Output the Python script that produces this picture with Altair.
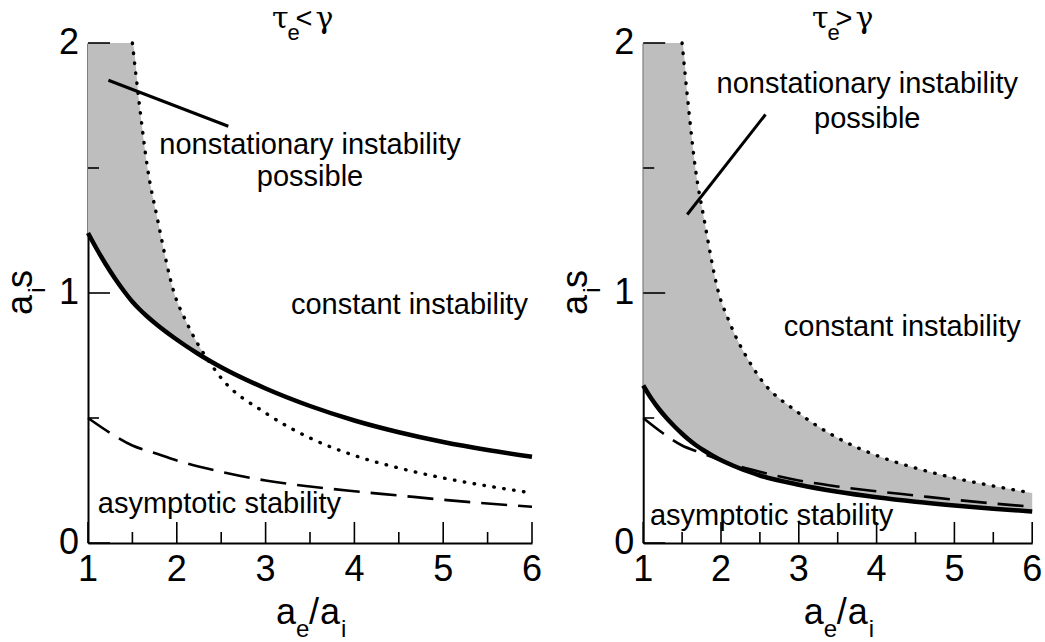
import altair as alt
import pandas as pd

FONT = "Liberation Sans"
GREEK = "DejaVu Serif"
SHADE = "#bebebe"

# ---- curve data (a_e/a_i on x, a_i s on y) ----
grid_x = [1.0, 1.1, 1.2, 1.3, 1.4, 1.5, 1.58, 1.67, 1.78, 1.97, 2.1, 2.23, 2.35,
          2.5, 3.0, 3.5, 4.0, 4.5, 5.0, 5.5, 6.0]
solid_left = [1.24, 1.175, 1.115, 1.06, 1.01, 0.965, 0.935, 0.905, 0.872, 0.821, 0.789, 0.759, 0.733,
              0.703, 0.618, 0.548, 0.49, 0.443, 0.404, 0.372, 0.345]
solid_right = [0.63, 0.58, 0.537, 0.5, 0.467, 0.437, 0.415, 0.393, 0.37, 0.336, 0.317, 0.3, 0.286,
               0.27, 0.233, 0.205, 0.183, 0.165, 0.15, 0.137, 0.126]

dotted_x = [1.5, 1.58, 1.67, 1.78, 1.97, 2.1, 2.23, 2.35, 2.5, 3.0, 3.5, 4.0, 4.5, 5.0, 5.5, 6.0]
dotted_y = [2.0, 1.75, 1.5, 1.3, 1.0, 0.89, 0.8, 0.733, 0.66, 0.52, 0.42, 0.35, 0.3, 0.26, 0.228, 0.2]

dashed_x = [1.0, 1.25, 1.5, 1.75, 2.0, 2.5, 3.0, 3.5, 4.0, 4.5, 5.0, 5.5, 6.0]
dashed_y = [0.5, 0.44, 0.39, 0.36, 0.33, 0.285, 0.25, 0.226, 0.207, 0.19, 0.173, 0.158, 0.145]

major_x = [1, 2, 3, 4, 5, 6]
minor_x = [1.5, 2.5, 3.5, 4.5, 5.5]
major_y = [0, 1, 2]
minor_y = [0.5, 1.5]
Y_TOP = 2.0

# leader lines from the "nonstationary instability" notes
pointer_left = {"x": [1.23], "y": [1.851], "x2": [2.58], "y2": [1.667]}
pointer_right = {"x": [1.566], "y": [1.314], "x2": [2.572], "y2": [1.714]}

H = 500
W_LEFT = 444
W_RIGHT = 389

XS = alt.Scale(domain=[1, 6], nice=False, zero=False)
YS = alt.Scale(domain=[0, 2], nice=False, zero=False)
AX = alt.Axis(labels=False, ticks=False, grid=False, title=None, domain=True,
              domainColor="black", domainWidth=2)


def X(field):
    return alt.X(field, type="quantitative", scale=XS, axis=AX)


def Y(field):
    return alt.Y(field, type="quantitative", scale=YS, axis=AX)


def txt(s, x, y, size, font=FONT, align="left", angle=0, baseline="alphabetic"):
    return alt.Chart(pd.DataFrame({"s": [s]})).mark_text(
        font=font, fontSize=size, align=align, baseline=baseline, angle=angle, color="black"
    ).encode(x=alt.value(x), y=alt.value(y), text="s:N")


def shade_table(solid, x_end):
    top_lookup = dict(zip(dotted_x, dotted_y))
    rows = []
    for x, lo in zip(grid_x, solid):
        if x > x_end:
            break
        top = Y_TOP if x < dotted_x[0] else top_lookup[x]
        rows.append({"x": x, "top": top, "bottom": lo})
    return pd.DataFrame(rows)


def panel(width, solid, shade_end, relation, notes, pointer, anchor=False):
    curves = pd.DataFrame({"x": grid_x, "y": solid})
    dotted = pd.DataFrame({"x": dotted_x, "y": dotted_y})
    dashed = pd.DataFrame({"x": dashed_x, "y": dashed_y})

    area = alt.Chart(shade_table(solid, shade_end)).mark_area(
        color=SHADE, interpolate="monotone", opacity=1
    ).encode(x=X("x"), y=Y("top"), y2="bottom")

    dot_line = alt.Chart(dotted).mark_line(
        color="black", strokeWidth=3.4, strokeDash=[0.5, 9.5], strokeCap="round",
        interpolate="monotone"
    ).encode(x=X("x"), y=Y("y"))

    dash_line = alt.Chart(dashed).mark_line(
        color="black", strokeWidth=2.6, strokeDash=[26, 11], interpolate="monotone"
    ).encode(x=X("x"), y=Y("y"))

    solid_line = alt.Chart(curves).mark_line(
        color="black", strokeWidth=4.5, interpolate="monotone"
    ).encode(x=X("x"), y=Y("y"))

    # inward ticks
    xt_major = alt.Chart(pd.DataFrame({"t": major_x})).mark_rule(
        color="black", strokeWidth=1.6).encode(x=X("t"), y=alt.value(H), y2=alt.value(H - 21))
    xt_minor = alt.Chart(pd.DataFrame({"t": minor_x})).mark_rule(
        color="black", strokeWidth=1.6).encode(x=X("t"), y=alt.value(H), y2=alt.value(H - 11))
    yt_major = alt.Chart(pd.DataFrame({"t": major_y})).mark_rule(
        color="black", strokeWidth=1.6).encode(y=Y("t"), x=alt.value(0), x2=alt.value(22))
    yt_minor = alt.Chart(pd.DataFrame({"t": minor_y})).mark_rule(
        color="black", strokeWidth=1.6).encode(y=Y("t"), x=alt.value(0), x2=alt.value(11))

    xl = alt.Chart(pd.DataFrame({"t": major_x})).mark_text(
        font=FONT, fontSize=36, align="center", baseline="top", color="black"
    ).encode(x=X("t"), y=alt.value(H + 10), text=alt.Text("t:Q", format="d"))
    yl = alt.Chart(pd.DataFrame({"t": major_y})).mark_text(
        font=FONT, fontSize=36, align="right", baseline="middle", color="black"
    ).encode(y=Y("t"), x=alt.value(-9), text=alt.Text("t:Q", format="d"))

    note_df = pd.DataFrame(notes)
    note_marks = alt.Chart(note_df).mark_text(
        font=FONT, fontSize=29, align="center", baseline="alphabetic", color="black"
    ).encode(x=X("x"), y=Y("y"), text="label:N")

    lead = alt.Chart(pd.DataFrame(pointer)).mark_rule(color="black", strokeWidth=3).encode(
        x=X("x"), y=Y("y"), x2="x2", y2="y2")

    # x axis title  a_e / a_i
    cx = width / 2
    base, sub = H + 81, H + 94
    xtitle = [
        txt("a", cx - 34, base, 36),
        txt("e", cx - 14, sub, 24),
        txt("/", cx - 1, base, 36),
        txt("a", cx + 10, base, 36),
        txt("i", cx + 31, sub, 24),
    ]
    # y axis title  a_i s (rotated)
    ytitle = [
        txt("a", -56, 262, 36, align="center", angle=270),
        txt("i", -43, 247, 24, align="center", angle=270),
        txt("s", -56, 236, 36, align="center", angle=270),
    ]
    # panel heading  tau_e < gamma
    tx = relation["x"]
    head = [
        txt("τ", tx + 1, -15, 30, font=GREEK, align="right"),
        txt("e", tx, -3, 22),
        txt(relation["sym"], tx + 8, -15, 29),
        txt("γ", tx + 28, -15, 30, font=GREEK),
    ]

    layers = [area, dot_line, dash_line, solid_line, xt_major, xt_minor, yt_major, yt_minor,
              xl, yl, note_marks, lead] + xtitle + ytitle + head
    if anchor:
        layers.append(
            alt.Chart(pd.DataFrame({"s": [0]})).mark_square(size=1, opacity=0).encode(
                x=alt.value(-87.5), y=alt.value(-41.7))
        )
    return alt.layer(*layers).properties(width=width, height=H)


left = panel(
    W_LEFT, solid_left, 2.35,
    {"x": 199.5, "sym": "<"},
    {"x": [3.5, 3.5, 4.62, 2.48], "y": [1.555, 1.427, 0.915, 0.12],
     "label": ["nonstationary instability", "possible", "constant instability",
               "asymptotic stability"]},
    pointer_left, anchor=True,
)
right = panel(
    W_RIGHT, solid_right, 6.0,
    {"x": 184.3, "sym": ">"},
    {"x": [3.88, 3.88, 4.33, 2.65], "y": [1.80, 1.66, 0.827, 0.074],
     "label": ["nonstationary instability", "possible", "constant instability",
               "asymptotic stability"]},
    pointer_right,
)

chart = alt.hconcat(left, right, spacing=111.2, bounds="flush").properties(
    padding=0, background="white"
).configure_view(stroke=None)

chart.save("out.html", embed_options={"renderer": "svg", "actions": False})
